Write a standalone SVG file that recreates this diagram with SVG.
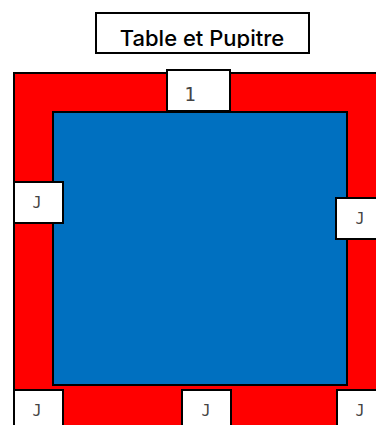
<svg xmlns="http://www.w3.org/2000/svg" width="376" height="425" viewBox="0 0 376 425">
<style>
.box{fill:#fff;stroke:#000;stroke-width:2}
.lbl{font-family:"DejaVu Sans Mono",monospace;font-size:15px;fill:#444;text-anchor:middle}
.title{font-family:Inter,"Noto Sans",sans-serif;font-size:22px;font-weight:500;fill:#000;text-anchor:middle}
</style>
<defs><clipPath id="tc"><rect x="95" y="13" width="214" height="35"/></clipPath></defs>
<rect width="376" height="425" fill="#fff"/>
<g id="title"><rect class="box" x="96" y="13" width="213" height="40"/><text class="title" x="202" y="46" clip-path="url(#tc)">Table et Pupitre</text></g>
<g id="table"><rect x="14" y="73" width="400" height="400" fill="#f00" stroke="#000" stroke-width="2"/></g>
<g id="pupitre"><rect x="53" y="112" width="294" height="273" fill="#0070C0" stroke="#000" stroke-width="2"/></g>
<g id="connectors"></g>
<g id="n1"><rect class="box" x="167" y="70" width="63" height="41"/><text class="lbl" x="190" y="101" style="font-size:19px">1</text></g>
<g id="jl"><rect class="box" x="14" y="182" width="49" height="41"/><text class="lbl" x="37" y="208">J</text></g>
<g id="jr"><rect class="box" x="336" y="198" width="60" height="41"/><text class="lbl" x="360" y="224">J</text></g>
<g id="jb1"><rect class="box" x="14" y="390" width="49" height="60"/><text class="lbl" x="37" y="416">J</text></g>
<g id="jb2"><rect class="box" x="182" y="390" width="49" height="60"/><text class="lbl" x="206" y="416">J</text></g>
<g id="jb3"><rect class="box" x="337" y="390" width="60" height="60"/><text class="lbl" x="360" y="416">J</text></g>
</svg>
